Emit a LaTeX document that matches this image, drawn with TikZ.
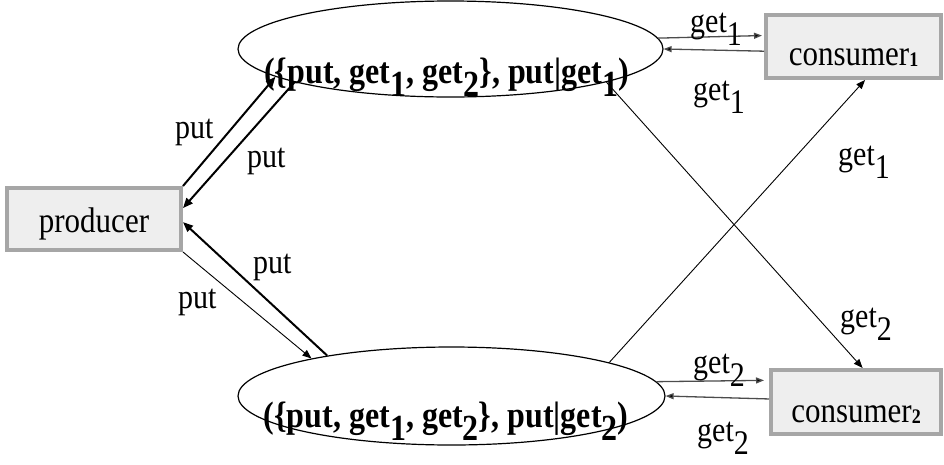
\documentclass[tikz,border=0pt]{standalone}
\usepackage{fontspec}
\usepackage{graphicx}
\setmainfont{Liberation Serif}
\usetikzlibrary{shapes.geometric,arrows.meta}
\definecolor{boxgray}{HTML}{A6A6A6}
\definecolor{boxfill}{HTML}{EEEEEE}
\newcommand\lowsub[1]{\raisebox{-0.38em}{#1}}
\newcommand\smallsub[1]{\raisebox{-1.5pt}{\fontsize{18}{18}\selectfont\bfseries #1}}
\newcommand\vs[1]{\scalebox{1}[1.15]{#1}}
\begin{document}
\begin{tikzpicture}[x=1pt,y=-1pt,
  procbox/.style={draw=boxgray, fill=boxfill, line width=4pt, inner sep=0pt,
    text depth=0pt, font=\fontsize{31}{36}\selectfont},
  statell/.style={ellipse, draw, line width=1.2pt, inner sep=0pt},
  lbl/.style={font=\fontsize{30}{36}\selectfont, inner sep=0pt, anchor=base west},
  btxt/.style={font=\fontsize{32}{38}\selectfont\bfseries, inner sep=0pt, anchor=base},
  thickarr/.style={line width=2pt, -{Triangle[length=10pt,width=8pt]}},
  thinarr/.style={line width=0.9pt, -{Triangle[length=9pt,width=7pt]}},
  getarr/.style={draw=black!70, line width=1.3pt, -{Triangle[length=8pt,width=6pt,fill=black]}}
]
\useasboundingbox (0,0) rectangle (944,464);

% nodes
\node[procbox, minimum width=174pt, minimum height=62pt, text height=26pt] (prod) at (94,219) {\vs{producer}};
\node[procbox, minimum width=175pt, minimum height=63pt, text height=37pt] (cons1) at (853.5,46.5) {\vs{consumer\smallsub{1}}};
\node[procbox, minimum width=170pt, minimum height=64pt, text height=40pt] (cons2) at (856,402) {\vs{consumer\smallsub{2}}};

\node[statell, minimum width=425pt, minimum height=96pt] (s1) at (450.5,49) {};
\node[statell, minimum width=427pt, minimum height=98pt] (s2) at (451.5,396) {};
\node[btxt] (t1) at (446.5,83) {\vs{(\{put, get\lowsub{1}, get\lowsub{2}\}, put|get\lowsub{1})}};
\node[btxt] (t2) at (446,427) {\vs{(\{put, get\lowsub{1}, get\lowsub{2}\}, put|get\lowsub{2})}};

% put connectors
\draw[thickarr] (prod.north east) -- (s1.189.4);
\draw[thickarr] (s1.192.3) -- (prod.7);
\draw[thickarr] (s2.162.1) -- (prod.-2.6);
\draw[thinarr] (prod.south east) -- (s2.165);

% get connectors
\draw[getarr, shorten >=2pt] (s1.3.2) -- (cons1.173.9);
\draw[getarr] (cons1.183.5) -- (s1.-0.8);
\draw[getarr, shorten >=5pt] (s2.4) -- (cons2.166.4);
\draw[getarr] (cons2.178) -- (s2.-0.8);
\draw[line width=0.9pt, -{Triangle[length=9pt,width=7pt]}] (s1.-12.8) -- (cons2.79.4);
\draw[line width=0.9pt, -{Triangle[length=9pt,width=7pt]}] (s2.12.6) -- (cons1.-71.1);

% labels
\node[lbl] (lput1) at (175,138) {\vs{put}};
\node[lbl] (lput2) at (247,167) {\vs{put}};
\node[lbl] (lput3) at (253,273) {\vs{put}};
\node[lbl] (lput4) at (178,308) {\vs{put}};
\node[lbl] (lg1a) at (690,32) {\vs{get\lowsub{1}}};
\node[lbl] (lg1b) at (693,100) {\vs{get\lowsub{1}}};
\node[lbl] (lg1c) at (838,165) {\vs{get\lowsub{1}}};
\node[lbl] (lg2c) at (840,327) {\vs{get\lowsub{2}}};
\node[lbl] (lg2a) at (693,373) {\vs{get\lowsub{2}}};
\node[lbl] (lg2b) at (697,441) {\vs{get\lowsub{2}}};
\end{tikzpicture}
\end{document}
